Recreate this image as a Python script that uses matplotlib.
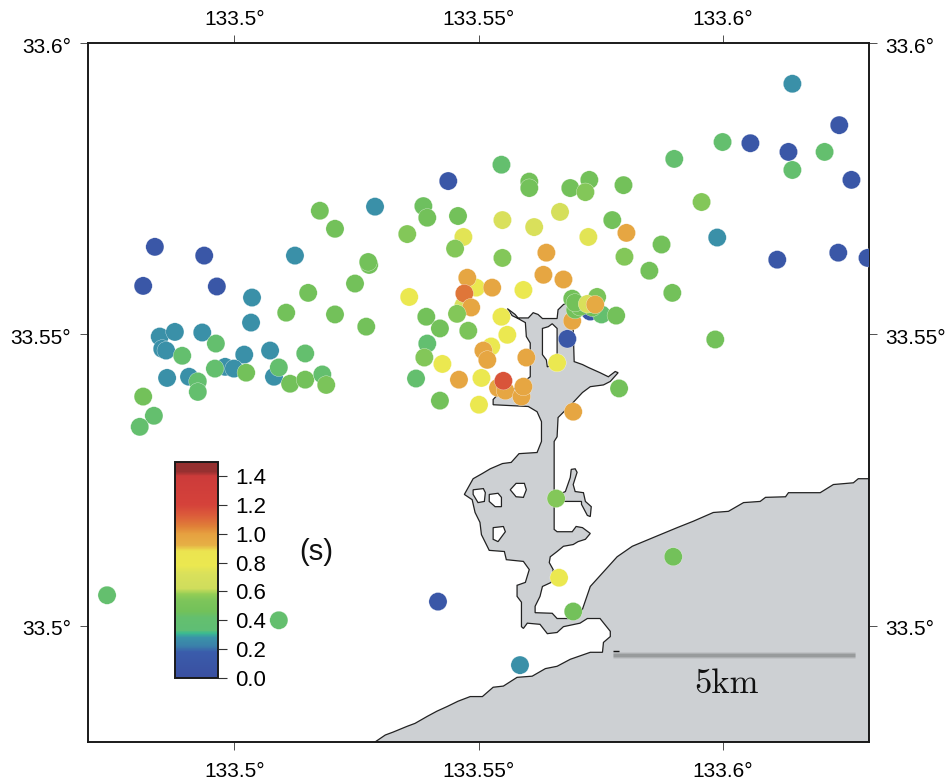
# -*- coding: utf-8 -*-
import matplotlib
matplotlib.use("Agg")
import matplotlib.pyplot as plt
from matplotlib.cm import ScalarMappable
from matplotlib.colors import LinearSegmentedColormap, Normalize
from matplotlib.transforms import ScaledTranslation

plt.rcParams["font.family"] = ["Liberation Sans", "DejaVu Sans"]

# station positions and periods (s), drawing order matters where dots overlap
station_lon = [
    133.6143, 133.6239, 133.6000, 133.6057, 133.6135, 133.6209, 133.5901, 133.6143, 133.6264, 133.5797,
    133.5957, 133.5774, 133.5803, 133.5875, 133.5989, 133.5799, 133.5850, 133.6112, 133.6237, 133.6297,
    133.5897, 133.5985, 133.5788, 133.5547, 133.5438, 133.5604, 133.5604, 133.5727, 133.5688, 133.5719,
    133.5175, 133.5288, 133.5387, 133.5395, 133.5458, 133.5206, 133.5354, 133.5549, 133.5614, 133.5667,
    133.5469, 133.5725, 133.5124, 133.4837, 133.4938, 133.4813, 133.4964, 133.5276, 133.5274, 133.5247,
    133.5151, 133.5036, 133.5106, 133.5206, 133.5270, 133.5034, 133.5452, 133.5549, 133.5639, 133.5633,
    133.5674, 133.5495, 133.5469, 133.5477, 133.5528, 133.5592, 133.5471, 133.5358, 133.5485, 133.5456,
    133.5393, 133.5421, 133.5479, 133.5547, 133.5559, 133.5526, 133.5510, 133.5518, 133.5598, 133.5395,
    133.5389, 133.5426, 133.5372, 133.5460, 133.5506, 133.5421, 133.5501, 133.5540, 133.5555, 133.5588,
    133.5592, 133.5551, 133.5694, 133.5661, 133.5682, 133.5692, 133.5729, 133.5752, 133.5782, 133.5698,
    133.5733, 133.5708, 133.5692, 133.5698, 133.5743, 133.5723, 133.5739, 133.5659, 133.5665, 133.5694,
    133.5417, 133.5899, 133.5585, 133.5091, 133.4739, 133.4847, 133.4878, 133.4934, 133.4852, 133.4860,
    133.5020, 133.5073, 133.4981, 133.4999, 133.4862, 133.4907, 133.5081, 133.4962, 133.4893, 133.5145,
    133.4960, 133.5024, 133.4925, 133.4925, 133.5091, 133.5114, 133.5145, 133.5180, 133.5188, 133.4813,
    133.4835, 133.4806,
]
station_lat = [
    33.5930, 33.5859, 33.5830, 33.5828, 33.5813, 33.5813, 33.5801, 33.5782, 33.5765, 33.5756,
    33.5727, 33.5696, 33.5674, 33.5654, 33.5666, 33.5633, 33.5609, 33.5628, 33.5640, 33.5631,
    33.5571, 33.5491, 33.5407, 33.5791, 33.5763, 33.5762, 33.5751, 33.5765, 33.5751, 33.5744,
    33.5712, 33.5719, 33.5720, 33.5700, 33.5703, 33.5681, 33.5672, 33.5696, 33.5684, 33.5710,
    33.5667, 33.5667, 33.5635, 33.5650, 33.5635, 33.5583, 33.5582, 33.5619, 33.5624, 33.5587,
    33.5571, 33.5563, 33.5537, 33.5534, 33.5513, 33.5520, 33.5647, 33.5631, 33.5640, 33.5602,
    33.5594, 33.5580, 33.5549, 33.5597, 33.5580, 33.5576, 33.5570, 33.5564, 33.5546, 33.5535,
    33.5530, 33.5510, 33.5506, 33.5530, 33.5499, 33.5479, 33.5472, 33.5456, 33.5460, 33.5484,
    33.5460, 33.5449, 33.5424, 33.5422, 33.5425, 33.5386, 33.5379, 33.5408, 33.5403, 33.5393,
    33.5410, 33.5420, 33.5367, 33.5451, 33.5492, 33.5523, 33.5539, 33.5534, 33.5532, 33.5542,
    33.5546, 33.5547, 33.5561, 33.5554, 33.5564, 33.5552, 33.5551, 33.5218, 33.5082, 33.5024,
    33.5041, 33.5118, 33.4932, 33.5009, 33.5052, 33.5496, 33.5504, 33.5503, 33.5475, 33.5472,
    33.5465, 33.5472, 33.5444, 33.5441, 33.5425, 33.5427, 33.5427, 33.5484, 33.5463, 33.5467,
    33.5441, 33.5434, 33.5419, 33.5401, 33.5443, 33.5415, 33.5422, 33.5431, 33.5413, 33.5393,
    33.5360, 33.5341,
]
station_period = [
    0.27, 0.12, 0.42, 0.12, 0.12, 0.42, 0.42, 0.42, 0.12, 0.47,
    0.55, 0.47, 0.97, 0.47, 0.27, 0.55, 0.47, 0.12, 0.12, 0.12,
    0.47, 0.47, 0.47, 0.42, 0.12, 0.47, 0.47, 0.47, 0.47, 0.55,
    0.47, 0.27, 0.45, 0.47, 0.47, 0.47, 0.55, 0.72, 0.72, 0.68,
    0.75, 0.75, 0.27, 0.12, 0.12, 0.12, 0.12, 0.47, 0.47, 0.47,
    0.47, 0.27, 0.47, 0.47, 0.47, 0.27, 0.55, 0.55, 0.97, 0.97,
    0.97, 0.78, 0.72, 0.97, 0.97, 0.78, 1.07, 0.78, 0.97, 0.55,
    0.47, 0.47, 0.52, 0.78, 0.78, 0.78, 0.97, 0.97, 0.97, 0.40,
    0.55, 0.78, 0.42, 0.97, 0.78, 0.47, 0.78, 0.97, 0.97, 0.97,
    0.97, 1.15, 0.97, 0.78, 0.12, 0.97, 0.12, 0.42, 0.47, 0.47,
    0.47, 0.47, 0.47, 0.47, 0.52, 0.72, 0.95, 0.55, 0.78, 0.47,
    0.12, 0.47, 0.27, 0.42, 0.42, 0.27, 0.27, 0.27, 0.27, 0.27,
    0.27, 0.27, 0.27, 0.27, 0.27, 0.27, 0.27, 0.42, 0.42, 0.42,
    0.42, 0.47, 0.42, 0.42, 0.42, 0.47, 0.47, 0.42, 0.52, 0.47,
    0.42, 0.42,
]

# shoreline of the land and the harbour
coast_lon = [
    133.5288, 133.5309, 133.5325, 133.5354, 133.5370, 133.5395, 133.5415, 133.5436, 133.5458, 133.5483,
    133.5508, 133.5530, 133.5551, 133.5579, 133.5610, 133.5637, 133.5661, 133.5688, 133.5729, 133.5754,
    133.5756, 133.5770, 133.5770, 133.5749, 133.5723, 133.5708, 133.5674, 133.5661, 133.5641, 133.5626,
    133.5600, 133.5592, 133.5588, 133.5588, 133.5579, 133.5579, 133.5596, 133.5604, 133.5592, 133.5557,
    133.5553, 133.5522, 133.5506, 133.5503, 133.5493, 133.5487, 133.5471, 133.5489, 133.5508, 133.5524,
    133.5549, 133.5567, 133.5583, 133.5620, 133.5629, 133.5629, 133.5620, 133.5602, 133.5530, 133.5530,
    133.5538, 133.5571, 133.5606, 133.5606, 133.5598, 133.5596, 133.5581, 133.5569, 133.5559, 133.5575,
    133.5581, 133.5602, 133.5612, 133.5622, 133.5631, 133.5661, 133.5663, 133.5674, 133.5682, 133.5694,
    133.5694, 133.5696, 133.5713, 133.5725, 133.5749, 133.5766, 133.5780, 133.5786, 133.5770, 133.5756,
    133.5729, 133.5713, 133.5694, 133.5663, 133.5661, 133.5655, 133.5655, 133.5661, 133.5692, 133.5700,
    133.5713, 133.5729, 133.5719, 133.5704, 133.5694, 133.5674, 133.5661, 133.5647, 133.5645, 133.5653,
    133.5649, 133.5631, 133.5626, 133.5616, 133.5616, 133.5651, 133.5661, 133.5694, 133.5713, 133.5729,
    133.5784, 133.5815, 133.5858, 133.5907, 133.5940, 133.5981, 133.6012, 133.6043, 133.6077, 133.6088,
    133.6129, 133.6135, 133.6200, 133.6227, 133.6268, 133.6278, 133.6300, 133.6300, 133.5288,
]
coast_lat = [
    33.4800, 33.4812, 33.4817, 33.4827, 33.4832, 33.4844, 33.4853, 33.4861, 33.4870, 33.4878,
    33.4878, 33.4894, 33.4896, 33.4911, 33.4913, 33.4926, 33.4930, 33.4942, 33.4954, 33.4954,
    33.4971, 33.4981, 33.4990, 33.5012, 33.5012, 33.5004, 33.4998, 33.4988, 33.4986, 33.5002,
    33.5004, 33.4995, 33.4998, 33.5040, 33.5050, 33.5069, 33.5074, 33.5096, 33.5110, 33.5113,
    33.5127, 33.5129, 33.5156, 33.5177, 33.5194, 33.5216, 33.5225, 33.5252, 33.5261, 33.5269,
    33.5278, 33.5280, 33.5295, 33.5297, 33.5316, 33.5350, 33.5367, 33.5376, 33.5379, 33.5388,
    33.5395, 33.5405, 33.5427, 33.5485, 33.5496, 33.5520, 33.5527, 33.5532, 33.5544, 33.5534,
    33.5528, 33.5528, 33.5537, 33.5534, 33.5527, 33.5527, 33.5542, 33.5551, 33.5554, 33.5542,
    33.5508, 33.5453, 33.5448, 33.5443, 33.5434, 33.5427, 33.5436, 33.5434, 33.5419, 33.5413,
    33.5410, 33.5400, 33.5383, 33.5357, 33.5324, 33.5316, 33.5165, 33.5161, 33.5161, 33.5170,
    33.5168, 33.5158, 33.5148, 33.5144, 33.5139, 33.5136, 33.5127, 33.5118, 33.5108, 33.5096,
    33.5074, 33.5067, 33.5050, 33.5033, 33.5022, 33.5021, 33.5012, 33.5012, 33.5028, 33.5067,
    33.5118, 33.5136, 33.5151, 33.5168, 33.5179, 33.5194, 33.5196, 33.5211, 33.5213, 33.5220,
    33.5221, 33.5228, 33.5228, 33.5242, 33.5245, 33.5252, 33.5252, 33.4800, 33.4800,
]

# the thin arm east of the channel
arm_lon = [133.5655, 133.5678, 133.5688, 133.5690, 133.5698, 133.5702, 133.5694, 133.5698,
           133.5715, 133.5719, 133.5731, 133.5729, 133.5723, 133.5711, 133.5711, 133.5655]
arm_lat = [33.5221, 33.5230, 33.5254, 33.5268, 33.5269, 33.5263, 33.5242, 33.5230,
           33.5228, 33.5213, 33.5204, 33.5187, 33.5189, 33.5208, 33.5213, 33.5213]

# white pockets inside the harbour
hole_lons = [
    [133.5489, 133.5510, 133.5514, 133.5512, 133.5499, 133.5489],
    [133.5522, 133.5540, 133.5547, 133.5547, 133.5534, 133.5522],
    [133.5565, 133.5577, 133.5594, 133.5598, 133.5592, 133.5577],
    [133.5530, 133.5551, 133.5555, 133.5540, 133.5530],
    [133.5631, 133.5643, 133.5651, 133.5661, 133.5661, 133.5641, 133.5639, 133.5631],
]
hole_lats = [
    [33.5233, 33.5235, 33.5228, 33.5213, 33.5211, 33.5225],
    [33.5225, 33.5227, 33.5220, 33.5204, 33.5204, 33.5213],
    [33.5233, 33.5244, 33.5244, 33.5233, 33.5220, 33.5221],
    [33.5168, 33.5170, 33.5161, 33.5144, 33.5148],
    [33.5510, 33.5513, 33.5518, 33.5510, 33.5451, 33.5444, 33.5456, 33.5465],
]

x_ticks = [133.5, 133.55, 133.6]
y_ticks = [33.5, 33.55, 33.6]
cbar_ticks = [0.0, 0.2, 0.4, 0.6, 0.8, 1.0, 1.2, 1.4]

scale_lon = [133.5776, 133.6272]
scale_lat = [33.4950, 33.4950]
scale_tick_lon = [133.5776, 133.5788]
scale_tick_lat = [33.4956, 33.4956]

LAND = "#cdd0d3"
EDGE = "#222222"

cmap_nodes = [
    (0.00, "#3a4fa0"), (0.18, "#3a5cab"), (0.22, "#3a80aa"), (0.28, "#3a93a8"),
    (0.31, "#3bbb90"), (0.33, "#5fbe75"), (0.42, "#64bf6e"), (0.46, "#72c15a"),
    (0.54, "#7ec55a"), (0.58, "#93cd55"), (0.62, "#cfdd5c"), (0.72, "#d9e05b"),
    (0.78, "#ebe850"), (0.88, "#ebe450"), (0.92, "#e6b045"), (1.00, "#e6a040"),
    (1.05, "#e08038"), (1.12, "#dc5f3a"), (1.20, "#d5423a"), (1.40, "#cc3b3a"),
    (1.43, "#963030"), (1.50, "#943030"),
]
cmap = LinearSegmentedColormap.from_list("period", [(v / 1.5, c) for v, c in cmap_nodes], N=512)
norm = Normalize(0, 1.5)

W, H = 946.0, 780.0
fig = plt.figure(figsize=(W / 100, H / 100), dpi=100)
ax = fig.add_axes([88 / W, (H - 742) / H, 781 / W, 699 / H])

ax.fill(coast_lon, coast_lat, facecolor=LAND, edgecolor=EDGE, linewidth=0.9, zorder=1)
ax.fill(arm_lon, arm_lat, facecolor=LAND, edgecolor=EDGE, linewidth=0.9, zorder=1)
for hx, hy in zip(hole_lons, hole_lats):
    ax.fill(hx, hy, facecolor="white", edgecolor=EDGE, linewidth=0.9, zorder=1.5)

# soft grey scale bar
for lw, alpha in [(5.0, 0.10), (3.6, 0.16), (2.2, 0.24)]:
    ax.plot(scale_lon, scale_lat, color="#555555", lw=lw, alpha=alpha, solid_capstyle="butt", zorder=2)
ax.plot(scale_tick_lon, scale_tick_lat, color="#111111", lw=1.0, solid_capstyle="butt", zorder=2)
ax.text(133.6008, 33.4899, "5km", family=["cmr10", "DejaVu Serif"], fontsize=25,
        ha="center", va="center", color="#111111", zorder=2)

ax.scatter(station_lon, station_lat, c=station_period, cmap=cmap, norm=norm, s=172,
           edgecolors="white", linewidths=0.2, zorder=3)

ax.set_xlim(133.47, 133.63)
ax.set_ylim(33.48, 33.6)
ax.set_xticks(x_ticks)
ax.set_xticklabels(["%g°" % v for v in x_ticks])
ax.set_yticks(y_ticks)
ax.set_yticklabels(["%g°" % v for v in y_ticks])
ax.tick_params(axis="both", direction="out", length=6, width=0.6, labelsize=15, color="#333333",
               top=True, right=True, labeltop=True, labelright=True, pad=6)
for sp in ax.spines.values():
    sp.set_linewidth(1.4)
    sp.set_color("#1a1a1a")

# tick labels sit a little lower than the ticks in the original
nudge = ScaledTranslation(0, -3 / 100, fig.dpi_scale_trans)
nudge_y = ScaledTranslation(0, -2 / 100, fig.dpi_scale_trans)
for tick in ax.xaxis.get_major_ticks():
    tick.label1.set_transform(tick.label1.get_transform() + nudge)
    tick.label2.set_transform(tick.label2.get_transform() + nudge)
for tick in ax.yaxis.get_major_ticks():
    tick.label1.set_transform(tick.label1.get_transform() + nudge_y)
    tick.label2.set_transform(tick.label2.get_transform() + nudge_y)

cax = fig.add_axes([175 / W, (H - 678) / H, 43 / W, 216.5 / H])
cbar = fig.colorbar(ScalarMappable(norm=norm, cmap=cmap), cax=cax, ticks=cbar_ticks)
cbar.ax.set_yticklabels(["%.1f" % v for v in cbar_ticks])
cbar.ax.tick_params(direction="out", length=6.5, width=0.8, labelsize=16, color="#333333", pad=6)
cbar.outline.set_linewidth(1.4)
cbar.outline.set_edgecolor("#1a1a1a")

fig.text(316 / W, (H - 552) / H, "(s)", fontsize=21, ha="center", va="center", color="#111111")

fig.savefig("out.png", dpi=100)
